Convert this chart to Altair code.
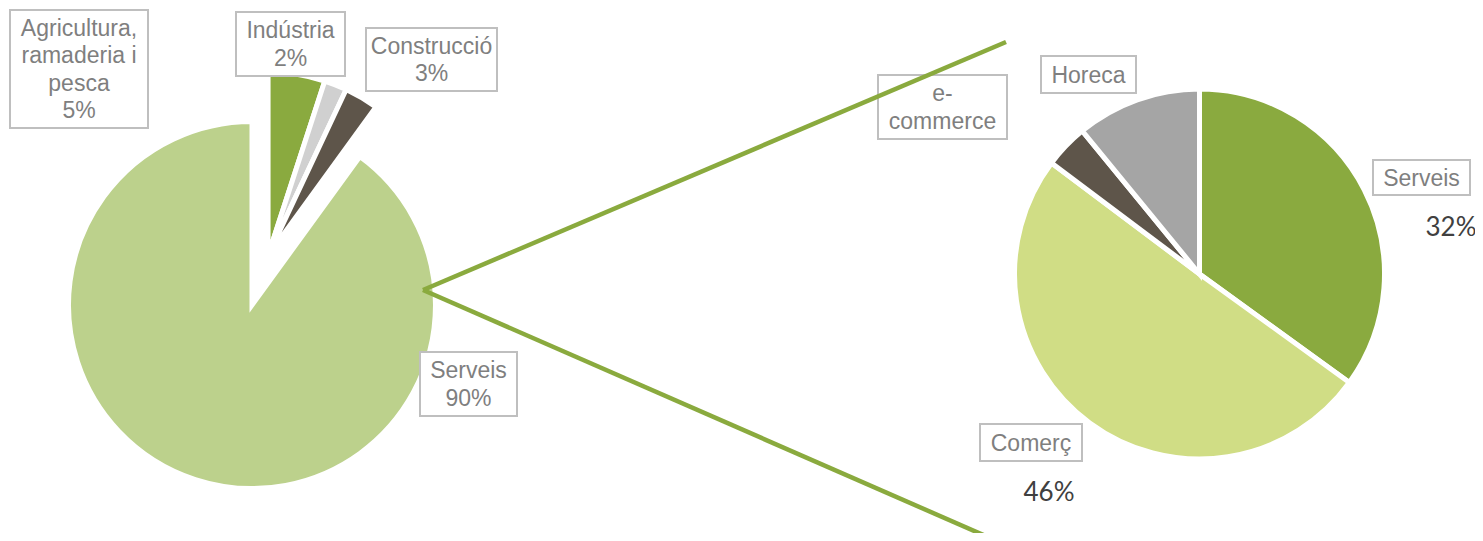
import math
import altair as alt
import pandas as pd

# ---------------- data ----------------
left_cats = ["Agricultura, ramaderia i pesca", "Indústria", "Construcció", "Serveis"]
left_vals = [5, 2, 3, 90]
right_cats = ["Serveis", "Comerç", "e-commerce", "Horeca"]
right_vals = [32, 46, 3.5, 10]

left_labels = ["Agricultura,\nramaderia i\npesca\n5%", "Indústria\n2%", "Construcció\n3%", "Serveis\n90%"]
right_labels = ["Serveis", "Comerç", "e-\ncommerce", "Horeca"]
right_pct = ["32%", "46%"]

# ---------------- style / layout ----------------
M = 8  # page margin
W, H = 1483 - 2 * M, 541 - 2 * M
left_colors = ["#8AAA3F", "#D0D0D0", "#5E554A", "#BCD18C"]
right_colors = ["#8AAA3F", "#D0DD85", "#5E554A", "#A5A5A5"]
line_color = "#8AAA3E"
box_stroke = "#BFBFBF"
txt_color = "#7F7F7F"
pct_color = "#404040"
LH = 27.5

L_CX, L_CY, L_R = 252 - M, 305 - M, 183.5
R_CX, R_CY, R_R = 1199.5 - M, 274 - M, 185
EXPLODE = 52          # pixel offset of the small group of the left pie
N_EXPLODED = 3        # first three slices are pulled out together


def slices(cats, vals, cx, cy, r, prefix, explode_n=0, explode=0):
    tot = sum(vals)
    rows = []
    acc = 0.0
    bounds = []
    for v in vals:
        a0 = acc / tot * 2 * math.pi
        acc += v
        a1 = acc / tot * 2 * math.pi
        bounds.append((a0, a1))
    dx = dy = 0
    if explode_n:
        g_mid = (bounds[0][0] + bounds[explode_n - 1][1]) / 2
        dx, dy = explode * math.sin(g_mid), -explode * math.cos(g_mid)
    for i, (c, (a0, a1)) in enumerate(zip(cats, bounds)):
        ox, oy = (dx, dy) if i < explode_n else (0, 0)
        rows.append(dict(key=prefix + c, cat=c, t0=a0, t1=a1, cx=cx + ox, cy=cy + oy, r=r))
    return pd.DataFrame(rows)


ldf = slices(left_cats, left_vals, L_CX, L_CY, L_R, "L-", N_EXPLODED, EXPLODE)
rdf = slices(right_cats, right_vals, R_CX, R_CY, R_R, "R-")
pie_df = pd.concat([ldf, rdf], ignore_index=True)
keys = ["L-" + c for c in left_cats] + ["R-" + c for c in right_cats]
cols = left_colors + right_colors

pies = alt.Chart(pie_df).mark_arc(stroke="white", strokeWidth=5).encode(
    theta=alt.Theta("t0:Q", scale=None, stack=None),
    theta2="t1:Q",
    x=alt.X("cx:Q", scale=None, axis=None),
    y=alt.Y("cy:Q", scale=None, axis=None),
    radius=alt.Radius("r:Q", scale=None),
    color=alt.Color("key:N", scale=alt.Scale(domain=keys, range=cols), legend=None),
)

one = pd.DataFrame({"a": [0]})

# label boxes (page coords): x0, y0, x1, y1
boxes = [
    (left_labels[0], (10, 10, 148, 128)),
    (left_labels[1], (236, 12, 345, 76)),
    (left_labels[2], (366, 28, 497, 91)),
    (left_labels[3], (420, 352, 517, 416)),
    (right_labels[2], (878, 75, 1007, 139)),
    (right_labels[3], (1041, 56, 1136, 93)),
    (right_labels[0], (1373, 160, 1470, 195)),
    (right_labels[1], (980, 424, 1082, 461)),
]
pct_pos = [(right_pct[0], (1451, 228)), (right_pct[1], (1049, 493))]

layers = [pies]
for txt, (x0, y0, x1, y1) in boxes:
    n = txt.count("\n") + 1
    layers.append(
        alt.Chart(one).mark_rect(fill="white", stroke=box_stroke, strokeWidth=2).encode(
            x=alt.value(x0 - M), x2=alt.value(x1 - M), y=alt.value(y0 - M), y2=alt.value(y1 - M)
        )
    )
    layers.append(
        alt.Chart(one).mark_text(
            font="Liberation Sans", fontSize=23, color=txt_color, align="center",
            baseline="middle", lineBreak="\n", lineHeight=LH,
        ).encode(
            x=alt.value((x0 + x1) / 2 - M),
            y=alt.value((y0 + y1) / 2 - M + 1 - (n - 1) * LH / 2),
            text=alt.value(txt),
        )
    )

for txt, (px, py) in pct_pos:
    layers.append(
        alt.Chart(one).mark_text(
            font="Lato", fontSize=26, color=pct_color, align="center", baseline="middle"
        ).encode(x=alt.value(px - M), y=alt.value(py - M), text=alt.value(txt))
    )

# connector lines from the left "Serveis" slice to the secondary pie
apex = (423, 290)
for end in [(1006, 42), (988, 537)]:
    layers.append(
        alt.Chart(one).mark_rule(color=line_color, strokeWidth=4.5, strokeCap="butt").encode(
            x=alt.value(apex[0] - M), y=alt.value(apex[1] - M),
            x2=alt.value(end[0] - M), y2=alt.value(end[1] - M),
        )
    )

chart = alt.layer(*layers).properties(
    width=W, height=H, autosize=alt.AutoSizeParams(type="none"), padding=0
).configure_view(stroke=None)

chart.save("out.html", embed_options={"renderer": "svg", "actions": False})
